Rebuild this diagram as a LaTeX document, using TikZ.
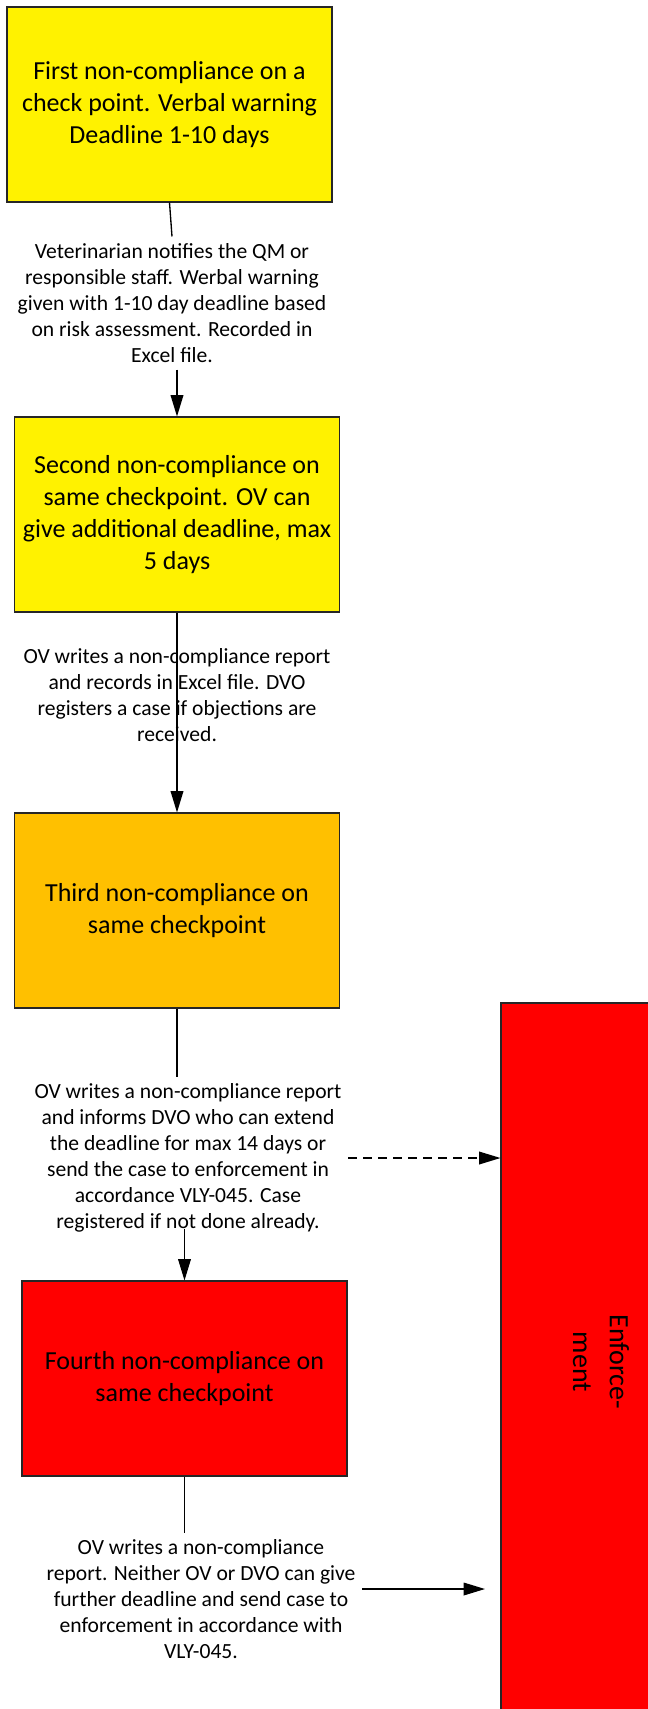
\documentclass[tikz,border=0pt]{standalone}
\usepackage{fontspec}
\setmainfont{Carlito}
\usetikzlibrary{arrows.meta}
\definecolor{amber}{HTML}{FFC000}

\begin{document}
\begin{tikzpicture}[x=0.75pt, y=-0.75pt, >={Triangle[length=16pt,width=9.5pt]},
  stage/.style={draw=black!85, line width=0.8pt, minimum width=243.75pt, minimum height=146.25pt,
    align=center, font=\fontsize{19.5}{24}\selectfont},
  note/.style={align=center, inner sep=5pt, font=\fontsize{16.2}{19.5}\selectfont},
  link/.style={line width=1pt}]
  \useasboundingbox (0,0) rectangle (647,1709);

  % The four stages, from first warning to enforcement
  \node[stage, fill=yellow] (first) at (169.5,104.5) {First non-compliance on a\\check point. Verbal warning\\Deadline 1-10 days};
  \node[stage, fill=yellow] (second) at (177,514.5) {Second non-compliance on\\same checkpoint. OV can\\give additional deadline, max\\5 days};
  \node[stage, fill=amber] (third) at (177,910.5) {Third non-compliance on\\same checkpoint};
  \node[stage, fill=red] (fourth) at (184.5,1378.5) {Fourth non-compliance on\\same checkpoint};

  % Enforcement column on the right
  \node[stage, fill=red, minimum width=150pt, minimum height=538.5pt] (enforce) at (601,1362) {};
  \node[rotate=-90, align=center, font=\fontsize{21}{27.5}\selectfont] (enforcetext) at (enforce.center) {Enforce-\\ment};

  % What happens after each stage
  \node[note] (note1) at (172,303) {Veterinarian notifies the QM or\\responsible staff. Werbal warning\\given with 1-10 day deadline based\\on risk assessment. Recorded in\\Excel file.};
  \node[note] (note2) at (177,695.5) {OV writes a non-compliance report\\and records in Excel file. DVO\\registers a case if objections are\\received.};
  \node[note] (note3) at (188,1158) {OV writes a non-compliance report\\and informs DVO who can extend\\the deadline for max 14 days or\\send the case to enforcement in\\accordance VLY-045. Case\\registered if not done already.};
  \node[note] (note4) at (201,1599.5) {OV writes a non-compliance\\report. Neither OV or DVO can give\\further deadline and send case to\\enforcement in accordance with\\VLY-045.};

  \draw[link] (first.south) -- (note1.north);
  \draw[link, ->] (note1.south -| second.north) -- (second.north);
  \draw[link, ->] (second.south) -- (third.north);
  \draw[link] (third.south) -- (note3.north -| third.south);
  \draw[link, ->] ([yshift=8pt]note3.south -| fourth.north) -- (fourth.north);
  \draw[link] (fourth.south) -- (note4.north -| fourth.south);

  % Third stage may go to enforcement, fourth always does
  \draw[link, ->, dash pattern=on 6.75pt off 4.5pt] (note3.east) -- (note3.east -| enforce.west);
  \coordinate (stop) at (485,1589);
  \draw[link, ->] (note4.east |- stop) -- (stop);
\end{tikzpicture}
\end{document}
